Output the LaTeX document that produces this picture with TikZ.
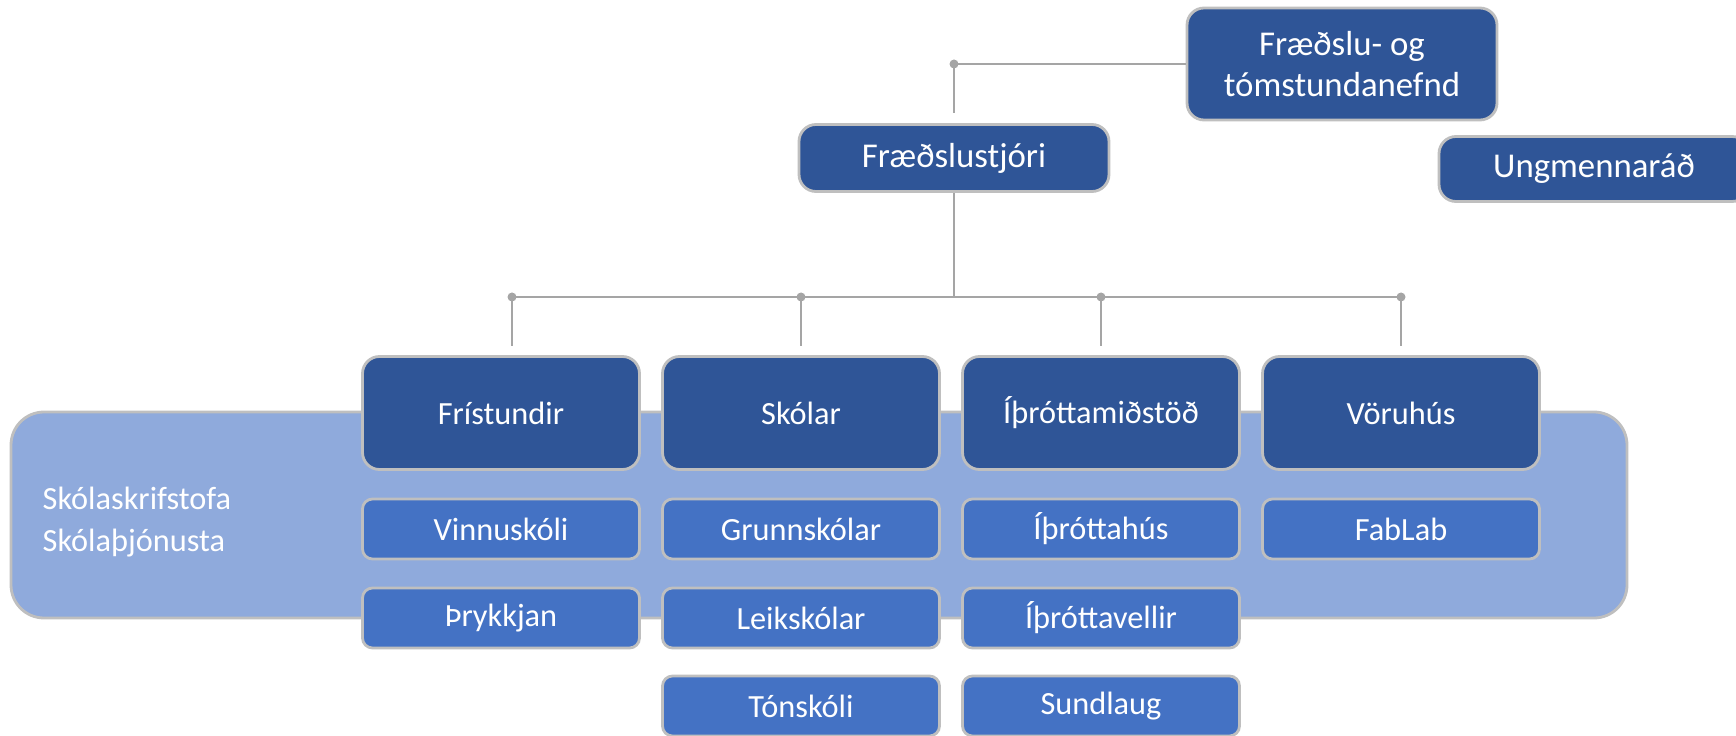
\documentclass[tikz,border=0pt]{standalone}
\usepackage{fontspec}
\setmainfont{Carlito}
\usetikzlibrary{positioning,calc}
\definecolor{darkblue}{HTML}{2F5597}
\definecolor{midblue}{HTML}{4472C4}
\definecolor{paleblue}{HTML}{8FAADC}
\definecolor{rim}{HTML}{BFBFBF}
\definecolor{wiregray}{HTML}{A5A5A5}

\begin{document}
\begin{tikzpicture}[x=0.1mm, y=-0.1mm, font=\fontsize{9.2}{11.7}\selectfont,
    unit/.style={rectangle, rounded corners=1.7mm, draw=rim, line width=0.8pt, fill=darkblue, text=white, minimum width=27.7mm, inner sep=0pt, align=center},
    lead/.style={unit, minimum width=31mm, font=\fontsize{9.9}{11.7}\selectfont},
    head/.style={unit, minimum height=11.3mm},
    sub/.style={unit, fill=midblue, rounded corners=1mm, minimum height=6mm},
    wire/.style={draw=wiregray, line width=0.6pt},
    knot/.style={fill=wiregray}]
    \useasboundingbox (0,0) rectangle (1736,736);

    % Office band behind the units
    \node[rectangle, rounded corners=3.3mm, draw=rim, line width=0.8pt, fill=paleblue, minimum width=161.6mm, minimum height=20.6mm] (band) at (819, 515) {};
    \node[anchor=west, align=left, text=white, inner sep=0pt] (office) at (42, 522) {Skólaskrifstofa\\Skólaþjónusta};

    % Top level
    \node[lead, minimum height=11.2mm] (board) at (1342, 64) {Fræðslu- og\\tómstundanefnd};
    \node[lead, minimum height=6.7mm] (director) at (954, 158) {Fræðslustjóri};
    \node[lead, minimum height=6.5mm] (youth) at (1594, 169) {Ungmennaráð};

    % Units
    \node[head] (leisure) at (501, 413) {Frístundir};
    \node[head] (schools) at (801, 413) {Skólar};
    \node[head] (sports) at (1101, 413) {Íþróttamiðstöð};
    \node[head] (store) at (1401, 413) {Vöruhús};

    % Sub units
    \node[sub] (work) at (501, 529) {Vinnuskóli};
    \node[sub] (print) at (501, 618) {Þrykkjan};
    \node[sub] (primary) at (801, 529) {Grunnskólar};
    \node[sub] (kinder) at (801, 618) {Leikskólar};
    \node[sub] (music) at (801, 706) {Tónskóli};
    \node[sub] (hall) at (1101, 529) {Íþróttahús};
    \node[sub] (fields) at (1101, 618) {Íþróttavellir};
    \node[sub] (pool) at (1101, 706) {Sundlaug};
    \node[sub] (fablab) at (1401, 529) {FabLab};

    % Connectors
    \coordinate (top) at (director.north |- board.west);
    \draw[wire, shorten >=1mm] (board.west) -- (top) -- (director.north);
    \fill[knot] (top) circle (0.45mm);

    \coordinate (bus) at (954, 297);
    \coordinate (drop1) at ([xshift=1.1mm]leisure.north |- bus);
    \draw[wire] (director.south) -- (bus);
    \draw[wire] (drop1) -- (store.north |- bus);
    \draw[wire, shorten >=0.9mm] (drop1) -- (drop1 |- leisure.north);
    \draw[wire, shorten >=0.9mm] (schools.north |- bus) -- (schools.north);
    \draw[wire, shorten >=0.9mm] (sports.north |- bus) -- (sports.north);
    \draw[wire, shorten >=0.9mm] (store.north |- bus) -- (store.north);
    \fill[knot] (drop1) circle (0.45mm);
    \fill[knot] (schools.north |- bus) circle (0.45mm);
    \fill[knot] (sports.north |- bus) circle (0.45mm);
    \fill[knot] (store.north |- bus) circle (0.45mm);
\end{tikzpicture}
\end{document}
